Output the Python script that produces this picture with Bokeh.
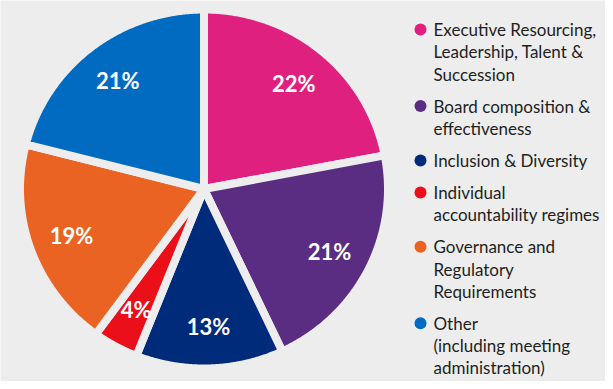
import numpy as np
from bokeh.plotting import figure
from bokeh.models import Range1d
from bokeh.core.properties import value
from bokeh.embed import file_html
from bokeh.resources import INLINE

# ---- data ----
categories = [
    "Executive Resourcing,\nLeadership, Talent &\nSuccession",
    "Board composition &\neffectiveness",
    "Inclusion & Diversity",
    "Individual\naccountability regimes",
    "Governance and\nRegulatory\nRequirements",
    "Other\n(including meeting\nadministration)",
]
shares = [22, 21, 13, 4, 19, 21]
colors = ["#e0207f", "#5a2d82", "#002a7a", "#eb0f19", "#eb6323", "#006bc0"]

BG = "#ededed"
W, H = 605, 381

p = figure(width=W, height=H, output_backend="svg", toolbar_location=None,
           x_range=Range1d(0, W), y_range=Range1d(H, 0), min_border=0)
p.axis.visible = False
p.grid.visible = False
p.outline_line_color = None
p.background_fill_color = BG
p.border_fill_color = BG

# pie geometry (pixel-like units)
cx, cy = 203.5, 188.5
rx, ry = 184.0, 179.5

vals = np.array(shares, dtype=float)
frac = vals / vals.sum()
ends = np.pi / 2 - 2 * np.pi * np.cumsum(frac)
starts = ends + 2 * np.pi * frac

xs, ys, lx, ly, labels = [], [], [], [], []
for s, e, f in zip(starts, ends, frac):
    t = np.linspace(s, e, 200)
    xs.append(np.concatenate([[cx], cx + rx * np.cos(t), [cx]]))
    ys.append(np.concatenate([[cy], cy - ry * np.sin(t), [cy]]))
    m = (s + e) / 2
    lx.append(cx + 0.765 * rx * np.cos(m))
    ly.append(cy - 0.765 * ry * np.sin(m))
    labels.append(f"{round(f * 100)}%")

p.patches(xs=xs, ys=ys, fill_color=colors, line_color=BG, line_width=8,
          line_join="round")

p.text(x=lx, y=ly, text=labels, text_color="white",
       text_font=value("Lato"), text_font_style="bold", text_font_size="22px",
       text_align="center", text_baseline="middle")

# legend
mx, tx = 420, 433
y0, line_h, gap = 29.0, 22.3, 9.7
mk_x, mk_y, t_x, t_y, t_txt = [], [], [], [], []
y = y0
for cat in categories:
    lines = cat.split("\n")
    mk_x.append(mx)
    mk_y.append(y)
    for ln in lines:
        t_x.append(tx)
        t_y.append(y)
        t_txt.append(ln)
        y += line_h
    y += gap

p.scatter(x=mk_x, y=mk_y, size=12, marker="circle", fill_color=colors,
          line_color=None)
p.text(x=t_x, y=t_y, text=t_txt, text_color="#1e1e1e",
       text_font=value("Lato"), text_font_size="17px",
       text_align="left", text_baseline="middle")

open("out.html", "w").write(file_html(p, INLINE))
